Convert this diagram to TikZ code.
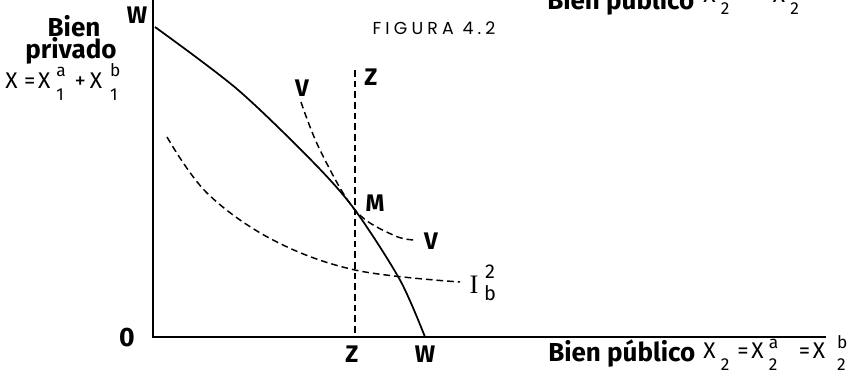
\documentclass[tikz,border=0pt]{standalone}
\usepackage{fontspec}
\setmainfont{Fira Sans}
\newfontfamily\figfont[LetterSpace=24]{Poppins}
\newfontfamily\serifI{Liberation Serif}
% X with superscript #1 and subscript #2, raised by #3 and lowered by #4, kern #5
\newcommand\SXo[5]{X\kern#5\makebox[0pt][l]{\raisebox{#3}{\fontsize{13}{13}\selectfont #1}}\raisebox{-#4}{\fontsize{13}{13}\selectfont #2}}
\tikzset{
  lbl/.style={inner sep=0pt, font=\fontsize{18}{20}\selectfont\bfseries},
  big/.style={inner sep=0pt, font=\fontsize{19.5}{21}\selectfont\bfseries},
  mth/.style={inner sep=0pt, font=\fontsize{17}{18}\selectfont},
  axis/.style={line width=1.3pt},
  curve/.style={line width=1.3pt},
  dcurve/.style={line width=1.1pt, dash pattern=on 5pt off 3pt},
}
\begin{document}
\begin{tikzpicture}[x=0.75pt,y=-0.75pt]
\useasboundingbox (0,0) rectangle (868,383);
\clip (0,0) rectangle (868,383);
% axes
\coordinate (O) at (153,337);
\coordinate (Ytop) at (153,0);
\coordinate (Xend) at (826,337);
\draw[axis] (Ytop) -- (O) -- (Xend);
% Z line
\coordinate (Ztop) at (355,70);
\coordinate (Zbot) at (355,337);
\draw[dcurve] (Ztop) -- (Zbot);
% WW curve
\draw[curve] plot[smooth, tension=0.5] coordinates {(155,27) (237,89) (313,162) (355,210) (400,280) (425,337)};
% VV curve
\draw[dcurve] plot[smooth, tension=0.6] coordinates {(301,102) (320,150) (355,210) (393,235) (415,240)};
% I curve
\draw[dcurve] plot[smooth, tension=0.6] coordinates {(167,137) (207,193) (273,240) (355,270) (460,282)};
% labels
\node[lbl] (Wt) at (137,15) {W};
\node[lbl] (Zt) at (371,77) {Z};
\node[lbl] (Vt) at (302,88) {V};
\node[lbl] (M) at (375,203) {M};
\node[lbl] (Vr) at (431,241) {V};
\node[inner sep=0pt, font=\fontsize{20}{20}\selectfont\serifI, anchor=base] (I) at (474,293) {I};
\node[inner sep=0pt, font=\fontsize{15}{15}\selectfont, anchor=center] (I2) at (490,272) {2};
\node[inner sep=0pt, font=\fontsize{15}{15}\selectfont, anchor=center] (Ib) at (490,293) {b};
\node[lbl] (Zb) at (352,354) {Z};
\node[lbl] (Wb) at (425,354) {W};
\node[inner sep=0pt, font=\fontsize{20}{20}\selectfont\bfseries] (zero) at (127,338) {0};
\node[big] (bien) at (74,26) {Bien};
\node[big] (priv) at (71,51) {privado};
\node[mth, anchor=base west] (xx) at (5,88) {X\hspace{5pt}=\hspace{2pt}\SXo{a}{1}{8.5pt}{9pt}{4.5pt}\hspace{8pt}+\hspace{3pt}\SXo{b}{1}{8.5pt}{9pt}{6pt}};
\node[inner sep=0pt, font=\fontsize{13}{13}\selectfont\figfont] (fig) at (434,28) {FIGURA 4.2};
\node[big, anchor=base west] (bp) at (548,361) {Bien público};
\node[mth, anchor=base west] (xf) at (703,358) {\SXo{}{2}{7.5pt}{9pt}{4pt}\hspace{6pt}=\hspace{2pt}\SXo{a}{2}{7.5pt}{9pt}{4pt}\hspace{16pt}=\hspace{2pt}\SXo{b}{2}{7.5pt}{9pt}{9pt}};
% clipped top line
\node[big, anchor=base west] (bpt) at (547,9) {Bien público};
\node[mth, anchor=base west] (xft) at (703,2) {\SXo{}{2}{7.5pt}{9pt}{4pt}\hspace{14pt}=\hspace{10pt}\SXo{}{2}{7.5pt}{9pt}{4pt}};
\end{tikzpicture}
\end{document}
